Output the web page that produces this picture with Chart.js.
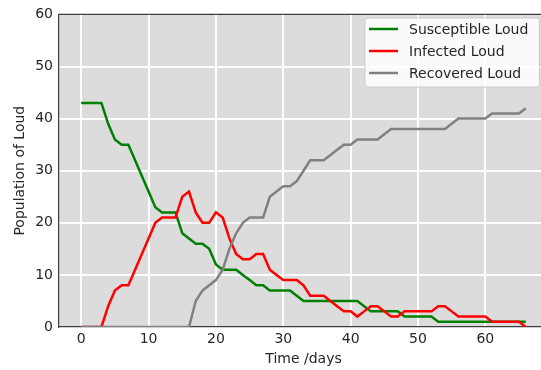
<!DOCTYPE html>
<html>
<head>
<meta charset="utf-8">
<title>SIR Loud</title>
<script src="https://cdn.jsdelivr.net/npm/chart.js@4/dist/chart.umd.min.js"></script>
<style>
html, body { margin: 0; padding: 0; overflow: hidden; background: #fff; }
#wrap { width: 552px; height: 370px; }
</style>
</head>
<body>
<div id="wrap"><canvas id="sir" width="552" height="370"></canvas></div>
<script>
// data, one value per day
var days = [0, 1, 2, 3, 4, 5, 6, 7, 8, 9, 10, 11, 12, 13, 14, 15, 16, 17, 18, 19,
    20, 21, 22, 23, 24, 25, 26, 27, 28, 29, 30, 31, 32, 33, 34, 35, 36, 37, 38, 39,
    40, 41, 42, 43, 44, 45, 46, 47, 48, 49, 50, 51, 52, 53, 54, 55, 56, 57, 58, 59,
    60, 61, 62, 63, 64, 65, 66];

var susceptible = [43, 43, 43, 43, 39, 36, 35, 35, 32, 29, 26, 23, 22, 22, 22, 18, 17, 16, 16, 15,
    12, 11, 11, 11, 10, 9, 8, 8, 7, 7, 7, 7, 6, 5, 5, 5, 5, 5, 5, 5,
    5, 5, 4, 3, 3, 3, 3, 3, 2, 2, 2, 2, 2, 1, 1, 1, 1, 1, 1, 1,
    1, 1, 1, 1, 1, 1, 1];

var infected = [0, 0, 0, 0, 4, 7, 8, 8, 11, 14, 17, 20, 21, 21, 21, 25, 26, 22, 20, 20,
    22, 21, 17, 14, 13, 13, 14, 14, 11, 10, 9, 9, 9, 8, 6, 6, 6, 5, 4, 3,
    3, 2, 3, 4, 4, 3, 2, 2, 3, 3, 3, 3, 3, 4, 4, 3, 2, 2, 2, 2,
    2, 1, 1, 1, 1, 1, 0];

var recovered = [0, 0, 0, 0, 0, 0, 0, 0, 0, 0, 0, 0, 0, 0, 0, 0, 0, 5, 7, 8,
    9, 11, 15, 18, 20, 21, 21, 21, 25, 26, 27, 27, 28, 30, 32, 32, 32, 33, 34, 35,
    35, 36, 36, 36, 36, 37, 38, 38, 38, 38, 38, 38, 38, 38, 38, 39, 40, 40, 40, 40,
    40, 41, 41, 41, 41, 41, 42];

var xTicks = [0, 10, 20, 30, 40, 50, 60];
var yTicks = [0, 10, 20, 30, 40, 50, 60];

var seriesNames = ["Susceptible Loud", "Infected Loud", "Recovered Loud"];
var seriesColors = ["#008000", "#ff0000", "#808080"];

var textColor = "#262626";
var font14 = {family: "'DejaVu Sans', sans-serif", size: 14};


// grey plot background + top spine
var plotFrame = {
    id: 'plotFrame',
    beforeDraw: function (chart) {
        var a = chart.chartArea;
        var ctx = chart.ctx;
        ctx.save();
        ctx.fillStyle = '#dcdcdc';
        ctx.fillRect(a.left, a.top, a.right - a.left, a.bottom - a.top);
        ctx.restore();
    },
    afterDraw: function (chart) {
        var a = chart.chartArea;
        var ctx = chart.ctx;
        ctx.save();
        ctx.strokeStyle = '#3d3d3d';
        ctx.lineWidth = 1.2;
        ctx.beginPath();
        ctx.moveTo(a.left, a.top);
        ctx.lineTo(a.right, a.top);
        ctx.stroke();
        ctx.restore();
    }
};

// legend box inside the plot, upper right
var legendBox = {
    id: 'legendBox',
    afterDraw: function (chart) {
        var ctx = chart.ctx;
        var x = 365, y = 18, w = 174.5, h = 69;
        ctx.save();
        ctx.beginPath();
        ctx.roundRect(x, y, w, h, 3);
        ctx.fillStyle = 'rgba(255,255,255,0.85)';
        ctx.fill();
        ctx.strokeStyle = '#cccccc';
        ctx.lineWidth = 1;
        ctx.stroke();

        ctx.font = "14px 'DejaVu Sans', sans-serif";
        ctx.textBaseline = 'middle';
        ctx.textAlign = 'left';
        for (var i = 0; i < seriesNames.length; i++) {
            var ly = 29 + i * 22;
            ctx.strokeStyle = seriesColors[i];
            ctx.lineWidth = 2.5;
            ctx.beginPath();
            ctx.moveTo(369, ly);
            ctx.lineTo(398, ly);
            ctx.stroke();
            ctx.fillStyle = textColor;
            ctx.fillText(seriesNames[i], 409, ly + 1);
        }
        ctx.restore();
    }
};


function makeDataset(i, values, order) {
    return {
        label: seriesNames[i],
        data: values,
        borderColor: seriesColors[i],
        backgroundColor: seriesColors[i],
        borderWidth: 2.5,
        pointRadius: 0,
        tension: 0,
        fill: false,
        order: order
    };
}


function makeChart() {
    var canvas = document.getElementById("sir");

    var chartData = {
        labels: days,
        datasets: [
            makeDataset(0, susceptible, 2),
            makeDataset(1, infected, 1),
            makeDataset(2, recovered, 0)
        ]
    };

    var chartOptions = {
        responsive: false,
        animation: false,
        layout: {padding: {left: 0, top: 11, right: 4, bottom: 0}},
        plugins: {
            legend: {display: false},
            tooltip: {enabled: false}
        },
        scales: {
            x: {
                type: 'linear',
                min: -3.3,
                max: 69.3,
                afterBuildTicks: function (scale) {
                    scale.ticks = xTicks.map(function (v) { return {value: v}; });
                },
                afterFit: function (scale) { scale.height = 43; },
                grid: {color: '#ffffff', lineWidth: 2, drawTicks: false},
                border: {display: true, color: '#3d3d3d', width: 1.2},
                ticks: {color: textColor, font: font14, padding: 4, maxRotation: 0},
                title: {
                    display: true, text: 'Time /days', color: textColor, font: font14,
                    padding: {top: 0, bottom: 2}
                }
            },
            y: {
                min: 0,
                max: 60,
                afterBuildTicks: function (scale) {
                    scale.ticks = yTicks.map(function (v) { return {value: v}; });
                },
                afterFit: function (scale) { scale.width = 59; },
                grid: {color: '#ffffff', lineWidth: 2, drawTicks: false},
                border: {display: true, color: '#3d3d3d', width: 1.2},
                ticks: {color: textColor, font: font14, padding: 6},
                title: {
                    display: true, text: 'Population of Loud', color: textColor, font: font14,
                    padding: {top: 11.6, bottom: 0}
                }
            }
        }
    };

    new Chart(canvas, {
        type: 'line',
        data: chartData,
        options: chartOptions,
        plugins: [plotFrame, legendBox]
    });
}

document.addEventListener('DOMContentLoaded', makeChart);
</script>
</body>
</html>
